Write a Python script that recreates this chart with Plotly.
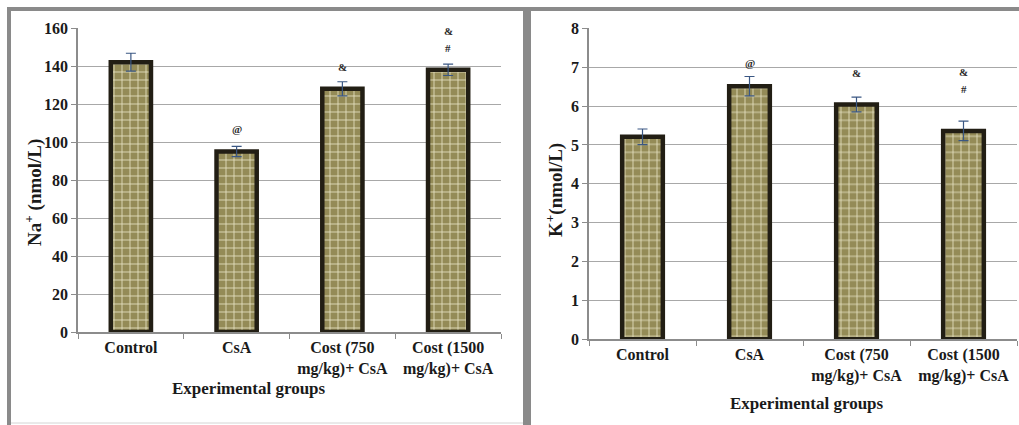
import plotly.graph_objects as go

W, H = 1019, 425

groups = ["Control", "CsA", "Cost (750<br>mg/kg)+ CsA", "Cost (1500<br>mg/kg)+ CsA"]
na_mean = [142, 95, 128, 138]
na_err = [4.7, 2.7, 3.7, 3.0]
k_mean = [5.21, 6.51, 6.04, 5.36]
k_err = [0.20, 0.25, 0.19, 0.25]

# significance marks (group index, symbol, y value)
na_marks = [(1, "@", 107), (2, "&", 139.5), (3, "&", 158.6), (3, "#", 149.6)]
k_marks = [(1, "@", 7.11), (2, "&", 6.85), (3, "&", 6.88), (3, "#", 6.44)]

na_ticks = [0, 20, 40, 60, 80, 100, 120, 140, 160]
k_ticks = [0, 1, 2, 3, 4, 5, 6, 7, 8]

FONT = "Liberation Serif"
OLIVE = "#948b57"
GRIDC = "#e6e1c3"
EDGE = "#221e14"
ERRC = "#3a5783"
AXC = "#8c8c8c"
TXT = "#1a1a1a"


def px(x):
    return x / W


def py(y):
    return 1 - y / H


fig = go.Figure()


def add_bars(means, errs, xa, ya):
    fig.add_trace(go.Bar(
        x=groups, y=means, xaxis=xa, yaxis=ya, width=0.38,
        marker=dict(
            color=OLIVE,
            line=dict(color=EDGE, width=4.5),
            pattern=dict(shape="+", bgcolor=OLIVE, fgcolor=GRIDC,
                         size=8, solidity=0.2, fillmode="replace"),
        ),
        error_y=dict(type="data", array=errs, visible=True,
                     color=ERRC, thickness=1.2, width=5),
        showlegend=False, hoverinfo="skip",
    ))


add_bars(na_mean, na_err, "x", "y")
add_bars(k_mean, k_err, "x2", "y2")

tickfont = dict(family=FONT, size=16, color=TXT, weight="bold")
axis_common = dict(
    showline=True, linecolor=AXC, linewidth=1.5,
    ticks="outside", tickcolor=AXC, ticklen=5, tickwidth=1,
    tickfont=tickfont, automargin=False,
)

fig.update_layout(
    template="none",
    width=W, height=H,
    margin=dict(l=0, r=0, t=0, b=0, pad=0, autoexpand=False),
    paper_bgcolor="white", plot_bgcolor="white",
    font=dict(family=FONT),
    xaxis=dict(domain=[px(78), px(501)], anchor="y",
               tickson="boundaries", showgrid=False, **axis_common),
    yaxis=dict(domain=[py(332), py(28)], anchor="x", range=[0, 160],
               tickvals=na_ticks, showgrid=True, gridcolor="#a8a8a8",
               gridwidth=1, zeroline=False, **axis_common),
    xaxis2=dict(domain=[px(589), px(1017)], anchor="y2",
                tickson="boundaries", showgrid=False, **axis_common),
    yaxis2=dict(domain=[py(339.3), py(28.3)], anchor="x2", range=[0, 8],
                tickvals=k_ticks, showgrid=True, gridcolor="#a8a8a8",
                gridwidth=1, zeroline=False, **axis_common),
)

markfont = dict(family=FONT, size=11, color="#2a2a2a", weight="bold")
annotations = []
for i, sym, yv in na_marks:
    annotations.append(dict(x=groups[i], y=yv, xref="x", yref="y", text=sym,
                            showarrow=False, xanchor="center", yanchor="middle",
                            font=markfont))
for i, sym, yv in k_marks:
    annotations.append(dict(x=groups[i], y=yv, xref="x2", yref="y2", text=sym,
                            showarrow=False, xanchor="center", yanchor="middle",
                            font=markfont))

titlefont_y = dict(family=FONT, size=19, color=TXT, weight="bold")
titlefont_x = dict(family=FONT, size=17, color=TXT, weight="bold")
annotations += [
    dict(x=px(33), y=py(193), xref="paper", yref="paper", textangle=-90,
         xanchor="center", yanchor="middle",
         text="Na<sup>+</sup> (nmol/L)", showarrow=False, font=titlefont_y),
    dict(x=px(555), y=py(190), xref="paper", yref="paper", textangle=-90,
         xanchor="center", yanchor="middle",
         text="K<sup>+</sup>(nmol/L)", showarrow=False, font=titlefont_y),
    dict(x=px(249), y=py(388), xref="paper", yref="paper",
         xanchor="center", yanchor="middle",
         text="Experimental groups", showarrow=False, font=titlefont_x),
    dict(x=px(807), y=py(403), xref="paper", yref="paper",
         xanchor="center", yanchor="middle",
         text="Experimental groups", showarrow=False, font=titlefont_x),
]
fig.update_layout(annotations=annotations)

# frame
frame = "#8a8a8a"
shapes = [
    dict(type="rect", x0=px(7), x1=px(1019), y0=py(11), y1=py(7), xref="paper",
         yref="paper", fillcolor=frame, line=dict(width=0), layer="above"),
    dict(type="rect", x0=px(7), x1=px(11), y0=py(425), y1=py(7), xref="paper",
         yref="paper", fillcolor=frame, line=dict(width=0), layer="above"),
    dict(type="rect", x0=px(523), x1=px(531), y0=py(425), y1=py(7), xref="paper",
         yref="paper", fillcolor=frame, line=dict(width=0), layer="above"),
    dict(type="line", x0=px(11), x1=px(523), y0=py(423), y1=py(423), xref="paper",
         yref="paper", line=dict(color="#d4d4d4", width=1)),
]
fig.update_layout(shapes=shapes)

fig.write_html("out.html")
